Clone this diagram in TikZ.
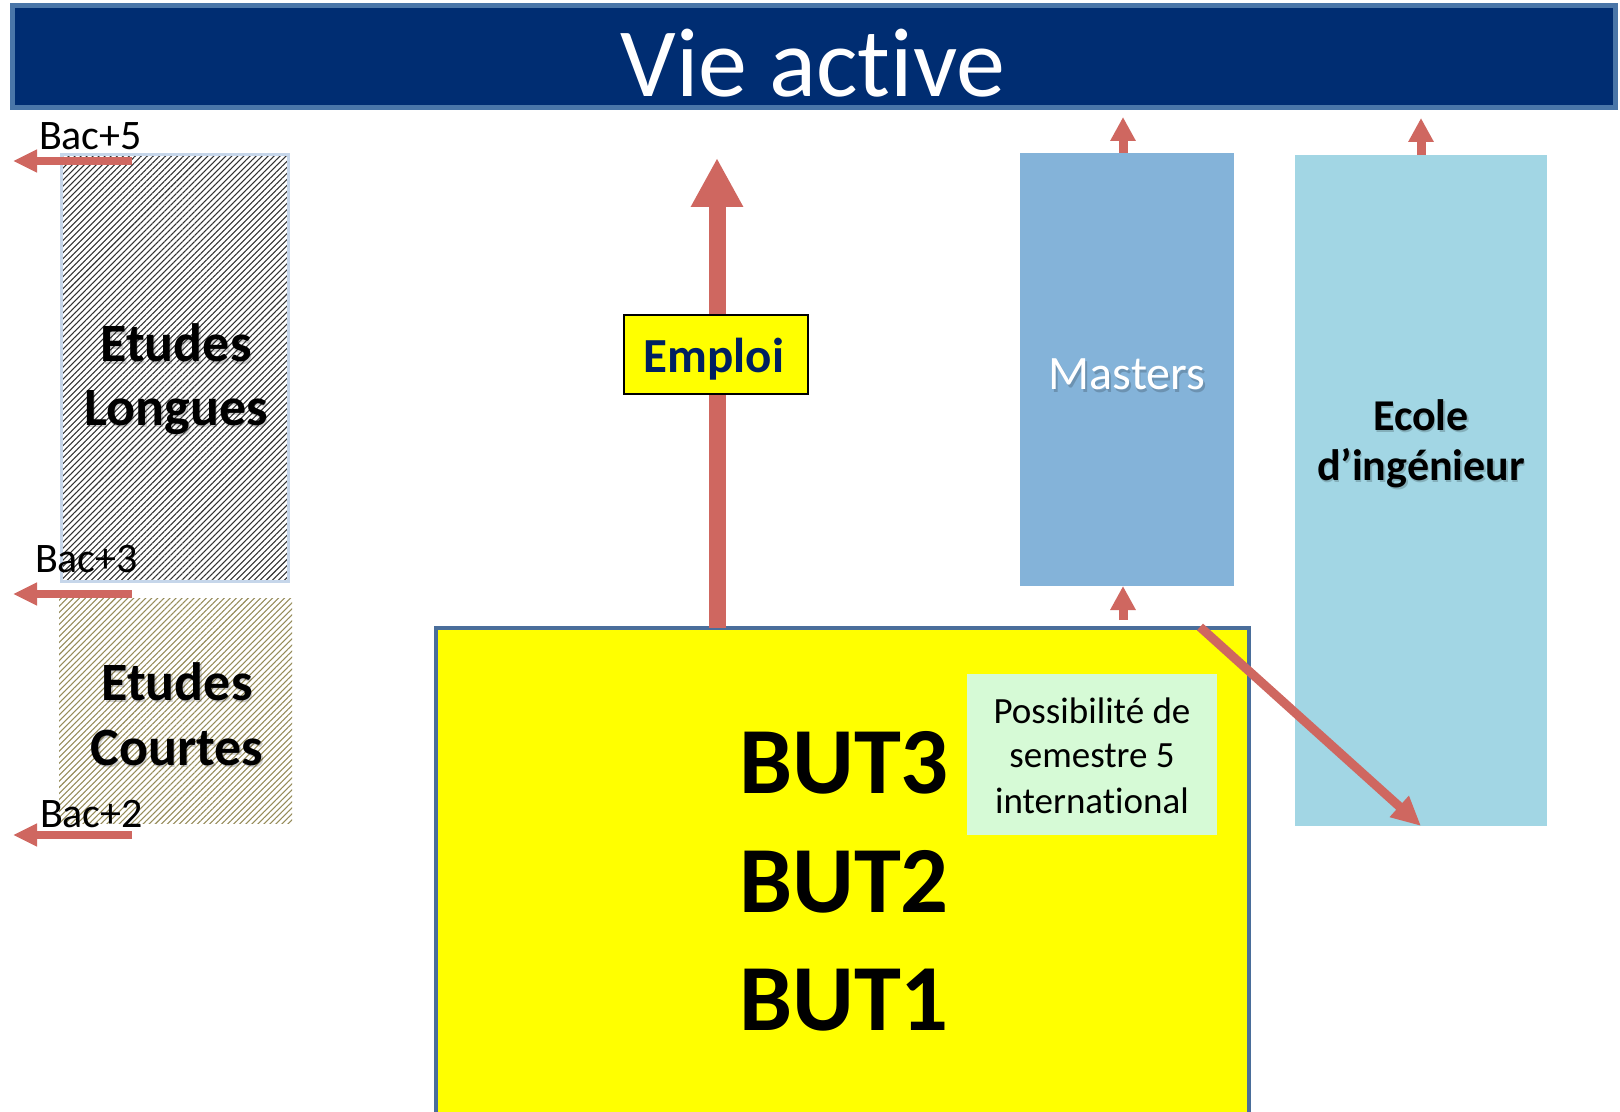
\documentclass[tikz,border=0pt]{standalone}
\usepackage{fontspec}
\setmainfont{Carlito}[Ligatures={NoCommon}]
\usetikzlibrary{arrows.meta,patterns.meta,fit}
\definecolor{navy}{RGB}{0,45,114}
\definecolor{bannerborder}{RGB}{74,118,168}
\definecolor{arrowred}{RGB}{207,103,96}
\definecolor{emploiblue}{RGB}{0,32,96}
\definecolor{butborder}{RGB}{74,110,155}
\definecolor{butyellow}{RGB}{255,255,0}
\definecolor{greenbox}{RGB}{214,250,214}
\definecolor{mastersblue}{RGB}{132,179,217}
\definecolor{ecoleblue}{RGB}{162,214,228}
\definecolor{longborder}{RGB}{198,214,234}
\definecolor{olivehatch}{RGB}{150,140,90}
\definecolor{darkhatch}{RGB}{50,50,50}
\newcommand{\fsz}[1]{\fontsize{#1}{1.2\dimexpr#1\relax}\selectfont}
\tikzset{
  box/.style={inner sep=0pt, outer sep=0pt},
  txt/.style={inner sep=0pt, outer sep=0pt},
  bigarrow/.style={draw=arrowred, line width=12.75pt, -{Triangle[width=36.75pt,length=36.75pt]}},
  smallarrow/.style={draw=arrowred, line width=6.75pt, -{Triangle[width=18pt,length=18pt]}},
  bacarrow/.style={draw=arrowred, line width=6pt, -{Triangle[width=16pt,length=18pt]}},
  diagarrow/.style={draw=arrowred, line width=6.75pt, -{Triangle[width=20pt,length=22pt]}},
  shadowtxt/.style={text=black, opacity=0.18, xshift=1.2pt, yshift=-1.8pt},
  baclabel/.style={txt, anchor=base west, font=\fsz{31.5pt}},
  etudes/.style={txt, anchor=base, font=\fsz{40.5pt}\bfseries},
}
\begin{document}
\begin{tikzpicture}[x=0.75pt,y=-0.75pt]
\useasboundingbox (0,0) rectangle (1620,1112);
\fill[white] (0,0) rectangle (1620,1112);

% banner
\coordinate (b1) at (12.5,5.5); \coordinate (b2) at (1615.5,107.5);
\node[box, fit=(b1)(b2), draw=bannerborder, line width=3.75pt, fill=navy] (banner) {};
\node[txt, anchor=base, text=white, font=\fsz{73.5pt}] (vie) at (813,97) {Vie active};

% Etudes longues
\coordinate (l1) at (61.5,154.5); \coordinate (l2) at (288.5,581.5);
\node[box, fit=(l1)(l2), draw=longborder, line width=2.25pt,
  pattern={Lines[angle=45,distance=3.2pt,line width=0.8pt]}, pattern color=darkhatch] (longues) {};
\node[etudes, shadowtxt] at (176,362) {Etudes};
\node[etudes, shadowtxt] at (176,425) {Longues};
\node[etudes] (tl1) at (176,362) {Etudes};
\node[etudes] (tl2) at (176,425) {Longues};

% Etudes courtes
\coordinate (c1) at (59,598); \coordinate (c2) at (292,823);
\node[box, fit=(c1)(c2),
  pattern={Lines[angle=45,distance=3.2pt,line width=0.8pt]}, pattern color=olivehatch] (courtes) {};
\node[etudes, shadowtxt] at (177,700) {Etudes};
\node[etudes, shadowtxt] at (177,765) {Courtes};
\node[etudes] (tc1) at (177,700) {Etudes};
\node[etudes] (tc2) at (177,765) {Courtes};

% Bac labels and arrows
\node[baclabel] (bac5) at (39,150) {Bac+5};
\node[baclabel] (bac3) at (35,572) {Bac+3};
\node[baclabel] (bac2) at (40,827) {Bac+2};
\coordinate (a5s) at (132,161); \coordinate (a5e) at (13,161);
\coordinate (a3s) at (132,594); \coordinate (a3e) at (13,594);
\coordinate (a2s) at (132,835); \coordinate (a2e) at (13,835);
\draw[bacarrow] (a5s) -- (a5e);
\draw[bacarrow] (a3s) -- (a3e);
\draw[bacarrow] (a2s) -- (a2e);

% Masters and Ecole
\coordinate (m1) at (1020,153); \coordinate (m2) at (1234,586);
\node[box, fit=(m1)(m2), fill=mastersblue] (masters) {};
\node[txt, anchor=base, font=\fsz{36pt}, shadowtxt] at (1127,390) {Masters};
\node[txt, anchor=base, font=\fsz{36pt}, text=white] (mtxt) at (1127,390) {Masters};

\coordinate (e1) at (1295,155); \coordinate (e2) at (1547,826);
\node[box, fit=(e1)(e2), fill=ecoleblue] (ecole) {};
\node[txt, anchor=base, font=\fsz{33pt}\bfseries, shadowtxt] at (1421,430) {Ecole};
\node[txt, anchor=base, font=\fsz{33pt}\bfseries, shadowtxt] at (1421,480) {d’ingénieur};
\node[txt, anchor=base, font=\fsz{33pt}\bfseries] (et1) at (1421,430) {Ecole};
\node[txt, anchor=base, font=\fsz{33pt}\bfseries] (et2) at (1421,480) {d’ingénieur};

% BUT box
\coordinate (u1) at (436,628); \coordinate (u2) at (1249,1130);
\node[box, fit=(u1)(u2), draw=butborder, line width=3pt, fill=butyellow] (but) {};
\node[txt, anchor=base, font=\fsz{71pt}\bfseries] (but3) at (844,793) {BUT3};
\node[txt, anchor=base, font=\fsz{71pt}\bfseries] (but2) at (844,912) {BUT2};
\node[txt, anchor=base, font=\fsz{71pt}\bfseries] (but1) at (844,1030) {BUT1};

\coordinate (g1) at (967,674); \coordinate (g2) at (1217,835);
\node[box, fit=(g1)(g2), fill=greenbox] (green) {};
\node[txt, anchor=base, font=\fsz{27.75pt}] (gt1) at (1092,723) {Possibilité de};
\node[txt, anchor=base, font=\fsz{27.75pt}] (gt2) at (1092,767) {semestre 5};
\node[txt, anchor=base, font=\fsz{27.75pt}] (gt3) at (1092,813) {international};

% arrows
\coordinate (emploitop) at (717,158);
\draw[bigarrow] (emploitop |- but.north) -- (emploitop);
\coordinate (mtop) at (1123,117);
\draw[smallarrow] (mtop |- masters.north) -- (mtop);
\coordinate (etop) at (1421,118);
\draw[smallarrow] (ecole.north) -- (etop);
\coordinate (bm) at (1123,620);
\draw[smallarrow] (bm) -- (bm |- masters.south);
\coordinate (dstart) at (1200,627);
\draw[diagarrow] (dstart) -- (ecole.south);

% Emploi
\coordinate (p1) at (624,315); \coordinate (p2) at (808,394);
\node[box, fit=(p1)(p2), draw=black, line width=1.5pt, fill=butyellow] (emploi) {};
\node[txt, anchor=base, font=\fsz{36.75pt}\bfseries, text=emploiblue] (emptxt) at (714,373) {Emploi};
\end{tikzpicture}
\end{document}
